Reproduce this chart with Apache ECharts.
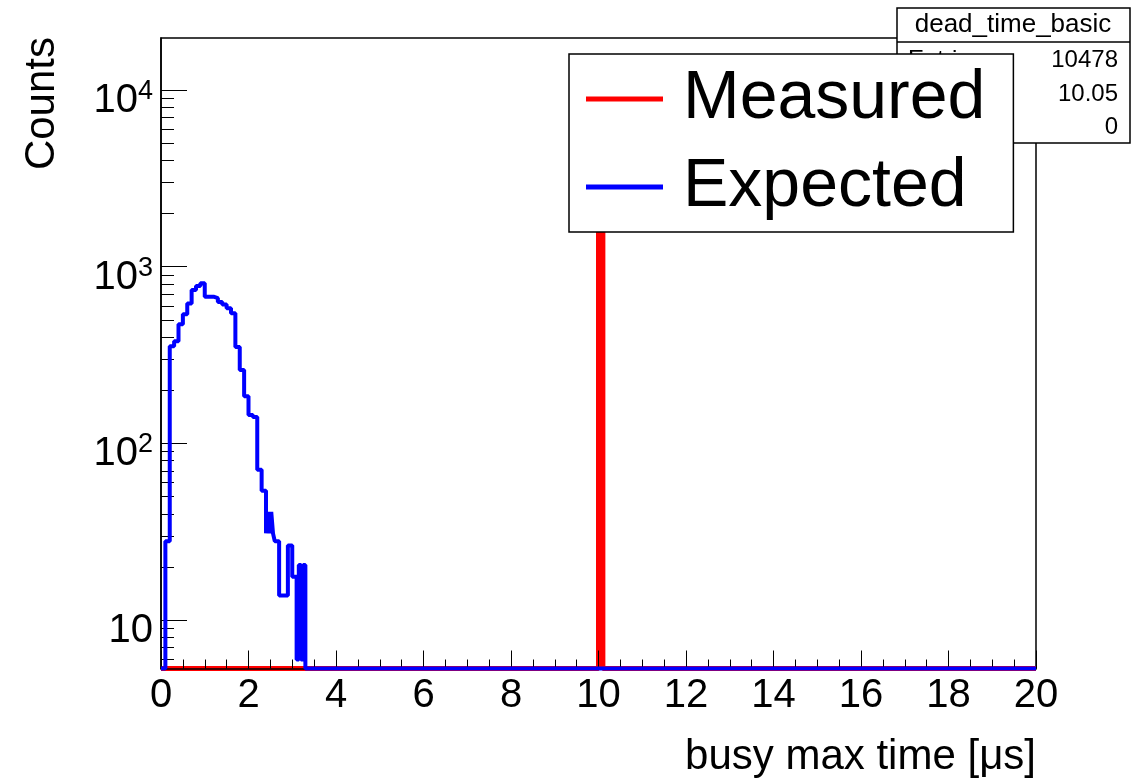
<!DOCTYPE html>
<html>
<head>
<meta charset="utf-8">
<script src="https://cdn.jsdelivr.net/npm/echarts@6/dist/echarts.min.js"></script>
<style>html,body{margin:0;padding:0;background:#fff}#c{width:1143px;height:780px}</style>
</head>
<body>
<div id="c"></div>
<script>
// ---------------- data ----------------
const X_MIN = 0, X_MAX = 20;
const Y_MIN = 5.33, Y_MAX = 19680;

// Measured histogram (bin lower edges, counts); last bin runs to X_MAX
const measBinLo  = [0.0, 10.0, 10.1];
const measCounts = [0, 10478, 0];

// Expected histogram (bin lower edges, counts); last bin runs to X_MAX
const expBinLo = [
  0.0, 0.1, 0.2, 0.3, 0.4, 0.5, 0.6, 0.7, 0.8, 0.9,
  1.0, 1.1, 1.2, 1.3, 1.4, 1.5, 1.6, 1.7, 1.8, 1.9,
  2.0, 2.1, 2.2, 2.3,
  2.40, 2.44, 2.48, 2.52, 2.56,
  2.6, 2.7, 2.8, 2.9, 3.0,
  3.10, 3.15, 3.20, 3.25,
  3.3
];
const expCounts = [
  0, 28, 355, 379, 473, 539, 620, 738, 777, 805,
  677, 677, 664, 632, 612, 583, 546, 351, 260, 185,
  145, 141, 71, 54,
  31, 41, 31, 41, 31,
  28, 13.8, 13.8, 26.5, 17.6,
  6, 20.5, 6, 20.5,
  0
];

const legendNames = ['Measured', 'Expected'];
const seriesColors = ['#ff0000', '#0000ff'];
const xAxisTitle = 'busy max time [\u03bcs]';
const yAxisTitle = 'Counts';
const statsTitle = 'dead_time_basic';
const statsNames = ['Entries', 'Mean', 'RMS'];
const statsValues = ['10478', '10.05', '0'];

// ---------------- helpers ----------------
const FONT = '"Liberation Sans", Arial, Helvetica, sans-serif';

function stepData(lo, counts) {
  const d = lo.map((x, i) => [x, Math.max(counts[i], Y_MIN)]);
  d.push([X_MAX, Math.max(counts[counts.length - 1], Y_MIN)]);
  return d;
}

const LMIN = Math.log10(Y_MIN), LMAX = Math.log10(Y_MAX);
const majorTickLogs = [];
const minorTickLogs = [];
for (let k = 0; k <= 5; k++) {
  if (k >= LMIN && k <= LMAX) majorTickLogs.push(k);
  for (let m = 2; m <= 9; m++) {
    const v = k + Math.log10(m);
    if (v >= LMIN && v <= LMAX) minorTickLogs.push(v);
  }
}

function yLabel(v) {
  const l = Math.log10(v);
  const n = Math.round(l);
  if (Math.abs(l - n) > 1e-6) return '';
  if (n === 1) return '{b|10}';
  return '{b|10}{s|' + n + '}';
}

const chart = echarts.init(document.getElementById('c'), null, {renderer: 'canvas'});
chart.setOption({
  animation: false,
  backgroundColor: '#ffffff',
  grid: {
    left: 161, right: 107, top: 38, bottom: 111.5,
    show: true, borderColor: '#000', borderWidth: 1.5, backgroundColor: 'transparent'
  },
  xAxis: {
    type: 'value', min: X_MIN, max: X_MAX, interval: 2, z: 3,
    axisLine: {show: true, onZero: false, lineStyle: {color: '#000', width: 1.5}},
    axisTick: {show: true, inside: true, length: 18, lineStyle: {color: '#000', width: 1}},
    minorTick: {show: true, splitNumber: 4, length: 9, lineStyle: {color: '#000', width: 1}},
    splitLine: {show: false},
    minorSplitLine: {show: false},
    axisLabel: {fontFamily: FONT, fontSize: 40, color: '#000', margin: 7, showMinLabel: true, showMaxLabel: true},
    name: xAxisTitle, nameLocation: 'end', nameGap: 0,
    nameTextStyle: {fontFamily: FONT, fontSize: 42, color: '#000', align: 'right', verticalAlign: 'top', padding: [68, 0, 0, 0]}
  },
  yAxis: [
    {
      type: 'log', logBase: 10, min: Y_MIN, max: Y_MAX, z: 3, position: 'left',
      axisLine: {show: true, lineStyle: {color: '#000', width: 1.5}},
      axisTick: {show: false},
      splitLine: {show: false},
      axisLabel: {
        margin: 8, showMinLabel: false, showMaxLabel: false, padding: [16, 0, 0, 0],
        formatter: yLabel,
        rich: {
          b: {fontFamily: FONT, fontSize: 40, color: '#000', lineHeight: 40, padding: [6, 0, 0, 0]},
          s: {fontFamily: FONT, fontSize: 27, color: '#000', lineHeight: 27, verticalAlign: 'top'}
        }
      }
    },
    {
      type: 'value', min: LMIN, max: LMAX, z: 3, position: 'left',
      axisLine: {show: false}, axisLabel: {show: false}, splitLine: {show: false},
      axisTick: {show: true, inside: true, length: 26, customValues: majorTickLogs, lineStyle: {color: '#000', width: 1}}
    },
    {
      type: 'value', min: LMIN, max: LMAX, z: 3, position: 'left',
      axisLine: {show: false}, axisLabel: {show: false}, splitLine: {show: false},
      axisTick: {show: true, inside: true, length: 13, customValues: minorTickLogs, lineStyle: {color: '#000', width: 1}}
    }
  ],
  legend: {
    orient: 'vertical', left: 569, top: 54,
    padding: [5, 28, 5, 17], itemGap: 8, itemWidth: 77, itemHeight: 5, icon: 'rect',
    backgroundColor: '#fff', borderColor: '#000', borderWidth: 1.5, borderRadius: 0,
    selectedMode: false, z: 10,
    itemStyle: {borderWidth: 0},
    textStyle: {fontFamily: FONT, fontSize: 68, color: '#000', lineHeight: 70, padding: [0, 0, 10, 15]},
    data: legendNames
  },
  series: [
    {
      name: legendNames[0], type: 'line', step: 'end', xAxisIndex: 0, yAxisIndex: 0,
      data: stepData(measBinLo, measCounts), symbol: 'none', showSymbol: false, clip: false, z: 2,
      color: seriesColors[0], lineStyle: {color: seriesColors[0], width: 5}
    },
    {
      name: legendNames[1], type: 'line', step: 'end', xAxisIndex: 0, yAxisIndex: 0,
      data: stepData(expBinLo, expCounts), symbol: 'none', showSymbol: false, clip: false, z: 4,
      color: seriesColors[1], lineStyle: {color: seriesColors[1], width: 4}
    }
  ],
  graphic: {
    elements: [
      {type: 'rect', z: 5, shape: {x: 897, y: 8, width: 233, height: 135},
       style: {fill: '#fff', stroke: '#000', lineWidth: 1.5}},
      {type: 'line', z: 6, shape: {x1: 897, y1: 42, x2: 1130, y2: 42},
       style: {stroke: '#000', lineWidth: 1.5}},
      {type: 'text', z: 6, x: 1013, y: 25,
       style: {text: statsTitle, fontFamily: FONT, fontSize: 26, fill: '#000', align: 'center', verticalAlign: 'middle'}},
      {type: 'text', z: 6, x: 908, y: 60,
       style: {text: statsNames[0], fontFamily: FONT, fontSize: 24, fill: '#000', align: 'left', verticalAlign: 'middle'}},
      {type: 'text', z: 6, x: 908, y: 94,
       style: {text: statsNames[1], fontFamily: FONT, fontSize: 24, fill: '#000', align: 'left', verticalAlign: 'middle'}},
      {type: 'text', z: 6, x: 908, y: 127,
       style: {text: statsNames[2], fontFamily: FONT, fontSize: 24, fill: '#000', align: 'left', verticalAlign: 'middle'}},
      {type: 'text', z: 6, x: 1118, y: 60,
       style: {text: statsValues[0], fontFamily: FONT, fontSize: 24, fill: '#000', align: 'right', verticalAlign: 'middle'}},
      {type: 'text', z: 6, x: 1118, y: 94,
       style: {text: statsValues[1], fontFamily: FONT, fontSize: 24, fill: '#000', align: 'right', verticalAlign: 'middle'}},
      {type: 'text', z: 6, x: 1118, y: 127,
       style: {text: statsValues[2], fontFamily: FONT, fontSize: 24, fill: '#000', align: 'right', verticalAlign: 'middle'}},
      {type: 'text', z: 6, x: 42, y: 37, rotation: Math.PI / 2,
       style: {text: yAxisTitle, fontFamily: FONT, fontSize: 42, fill: '#000', align: 'right', verticalAlign: 'middle'}}
    ]
  }
});
</script>
</body>
</html>
